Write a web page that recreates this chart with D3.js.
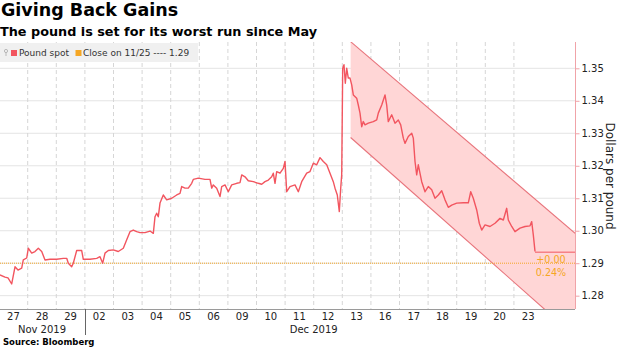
<!DOCTYPE html>
<html><head><meta charset="utf-8">
<script src="https://cdn.jsdelivr.net/npm/d3@7"></script>
<style>body{margin:0;background:#fff;} svg{display:block;font-family:"DejaVu Sans",sans-serif;}</style>
</head><body><svg id="c" width="620" height="348"></svg>
<script>
const title = "Giving Back Gains";
const subtitle = "The pound is set for its worst run since May";
const sourceText = "Source: Bloomberg";
const yAxisTitle = "Dollars per pound";
const legendLabels = ["Pound spot", "Close on 11/25 ---- 1.29"];
const dayLabels = ["27","28","29","02","03","04","05","06","09","10","11","12","13","16","17","18","19","20","23"];
const monthLabels = ["Nov 2019", "Dec 2019"];
const monthStart = [0, 3];
const monthEnd = [3, 19];
const yTicks = [1.28, 1.29, 1.30, 1.31, 1.32, 1.33, 1.34, 1.35];
// Pound spot: x = trading-day index (fractional), y = dollars per pound
const spotIdx = [0.031,0.206,0.311,0.441,0.556,0.661,0.790,0.846,0.965,1.021,1.140,1.255,1.371,1.490,1.605,1.780,2.014,2.245,2.364,2.420,2.538,2.594,2.713,2.888,2.944,
3.178,3.413,3.528,3.622,3.703,3.818,3.993,4.168,4.343,4.462,4.577,4.692,4.811,4.927,5.101,
5.276,5.392,5.451,5.510,5.566,5.626,5.741,5.860,6.035,6.210,6.325,6.385,6.500,6.615,6.734,6.790,6.965,7.199,7.374,7.434,7.490,7.608,7.724,7.783,7.899,8.014,8.133,8.308,8.423,8.483,8.598,8.713,8.888,9.063,9.182,9.297,9.413,9.531,9.587,9.647,9.706,9.822,9.937,9.997,
10.056,10.171,10.346,10.462,10.580,10.755,10.871,10.986,11.105,11.220,11.336,11.455,11.570,11.685,11.745,11.825,11.895,11.944,11.979,12.014,12.059,12.105,12.154,12.210,12.269,12.329,12.385,12.503,12.559,12.619,12.678,12.734,12.794,12.909,13.084,13.203,13.259,13.378,13.493,13.552,13.608,13.727,13.843,13.958,14.042,14.133,14.192,14.308,14.427,14.483,14.542,14.601,14.657,
14.776,14.892,15.007,15.126,15.241,15.357,15.476,15.591,15.706,15.825,16.000,16.231,16.406,16.490,16.580,16.699,16.790,16.874,16.990,17.164,17.339,17.514,17.630,17.748,17.804,17.923,18.038,18.213,18.388,18.563,18.622,18.678,18.738];
const spotVal = [1.2864,1.2857,1.2855,1.2836,1.2889,1.2879,1.2885,1.2910,1.2916,1.2946,1.2931,1.2936,1.2946,1.2936,1.2910,1.2912,1.2912,1.2915,1.2915,1.2900,1.2889,1.2900,1.2939,1.2939,1.2912,
1.2912,1.2915,1.2920,1.2900,1.2931,1.2939,1.2941,1.2936,1.2946,1.2972,1.2997,1.3002,1.2997,1.2994,1.2994,
1.2999,1.2992,1.3043,1.3054,1.3043,1.3085,1.3110,1.3095,1.3100,1.3110,1.3115,1.3136,1.3131,1.3131,1.3146,1.3158,1.3162,1.3158,1.3158,1.3131,1.3141,1.3131,1.3105,1.3136,1.3141,1.3120,1.3141,1.3146,1.3148,1.3172,1.3166,1.3154,1.3151,1.3146,1.3143,1.3151,1.3156,1.3166,1.3177,1.3146,1.3182,1.3177,1.3192,1.3213,
1.3120,1.3136,1.3141,1.3120,1.3151,1.3177,1.3182,1.3208,1.3203,1.3225,1.3213,1.3203,1.3177,1.3151,1.3131,1.3110,1.3059,1.3131,1.3172,1.3500,1.3511,1.3454,1.3500,1.3470,1.3470,1.3449,1.3418,1.3408,1.3387,1.3362,1.3320,1.3336,1.3326,1.3331,1.3336,1.3341,1.3362,1.3387,1.3418,1.3387,1.3336,1.3357,1.3331,1.3341,1.3326,1.3285,1.3269,1.3290,1.3300,1.3285,1.3213,1.3172,1.3203,
1.3151,1.3120,1.3136,1.3126,1.3100,1.3110,1.3123,1.3095,1.3072,1.3079,1.3085,1.3086,1.3086,1.3120,1.3100,1.3064,1.3023,1.3002,1.3018,1.3013,1.3023,1.3038,1.3033,1.3069,1.3033,1.3013,1.2997,1.3008,1.3013,1.3015,1.3028,1.2987,1.2936];
const lastPrice = 1.2934;
const closeValue = 1.29;
const changeLabels = ["+0.00", "0.24%"];
const channelIdx = [12.29, 20.14];
const channelUpper = [1.3582, 1.2992];
const channelLower = [1.3287, 1.2675];
const xDomain = [0.0315, 20.136];
const yDomain = [1.2759, 1.3581];

const C = {line:"#f2555f", fill:"#ffd6d6", chan:"#e8737b", axisR:"#f0a3a8", orange:"#f5a623", grid:"#e4e4e4", text:"#222"};
const plot = {l:0, r:575, t:42, b:309};
const svg = d3.select("#c");
const x = d3.scaleLinear().domain(xDomain).range([plot.l, plot.r]);
const y = d3.scaleLinear().domain(yDomain).range([plot.b, plot.t]);

svg.append("defs").append("clipPath").attr("id","pc").append("rect")
  .attr("x",plot.l).attr("y",plot.t).attr("width",plot.r-plot.l).attr("height",plot.b-plot.t);

// Titles
svg.append("text").attr("x",1).attr("y",16).attr("font-size",17.5).attr("font-weight","bold").attr("fill","#000").text(title);
svg.append("text").attr("x",0).attr("y",35.5).attr("font-size",12.8).attr("font-weight","bold").attr("fill","#000").text(subtitle);

// horizontal gridlines
svg.append("g").selectAll("line").data(yTicks).join("line")
  .attr("x1",plot.l).attr("x2",plot.r).attr("y1",d=>y(d)).attr("y2",d=>y(d))
  .attr("stroke",C.grid).attr("stroke-width",1);
// vertical dashed gridlines at day boundaries
const bounds = d3.range(1, dayLabels.length);
svg.append("g").selectAll("line").data(bounds).join("line")
  .attr("x1",d=>x(d)).attr("x2",d=>x(d)).attr("y1",plot.t).attr("y2",plot.b)
  .attr("stroke","#d6d6d6").attr("stroke-dasharray","4,3").attr("stroke-width",1);

const gp = svg.append("g").attr("clip-path","url(#pc)");
// channel
const chanPoly = [[channelIdx[0],channelUpper[0]],[channelIdx[1],channelUpper[1]],[channelIdx[1],channelLower[1]],[channelIdx[0],channelLower[0]]];
gp.append("path").attr("d", d3.line().x(d=>x(d[0])).y(d=>y(d[1]))(chanPoly)+"Z").attr("fill",C.fill).attr("stroke","none");
[channelUpper, channelLower].forEach(v=>{
  gp.append("line").attr("x1",x(channelIdx[0])).attr("x2",x(channelIdx[1])).attr("y1",y(v[0])).attr("y2",y(v[1]))
    .attr("stroke",C.chan).attr("stroke-width",1.1);
});
// close line
gp.append("line").attr("x1",plot.l).attr("x2",plot.r).attr("y1",y(closeValue)).attr("y2",y(closeValue))
  .attr("stroke",C.orange).attr("stroke-width",1).attr("stroke-dasharray","1,1");
// spot line
const pts = spotIdx.map((d,i)=>[d, spotVal[i]]);
gp.append("path").attr("d", d3.line().x(d=>x(d[0])).y(d=>y(d[1]))(pts))
  .attr("fill","none").attr("stroke",C.line).attr("stroke-width",1.4).attr("stroke-linejoin","round");
// last price extension
gp.append("line").attr("x1",x(spotIdx[spotIdx.length-1])).attr("x2",plot.r).attr("y1",y(lastPrice)).attr("y2",y(lastPrice))
  .attr("stroke",C.line).attr("stroke-width",1);
// change labels
svg.append("text").attr("x",plot.r-24).attr("y",y(closeValue)).attr("text-anchor","middle").attr("font-size",9.6).attr("fill",C.orange).text(changeLabels[0]);
svg.append("text").attr("x",plot.r-24).attr("y",y(closeValue)+12.5).attr("text-anchor","middle").attr("font-size",9.6).attr("fill",C.orange).text(changeLabels[1]);

// right axis
const ya = d3.axisRight(y).tickValues(yTicks).tickFormat(d3.format(".2f")).tickSize(4).tickPadding(2);
const gy = svg.append("g").attr("transform",`translate(${plot.r+0.5},0)`).call(ya);
gy.select(".domain").attr("stroke",C.axisR).attr("d",`M0,${plot.t}V${plot.b}`);
gy.selectAll(".tick line").attr("stroke",C.axisR);
gy.selectAll(".tick text").attr("font-size",10).attr("font-family","DejaVu Sans").attr("fill",C.text);
svg.append("text").attr("transform",`translate(606,176) rotate(90)`).attr("text-anchor","middle")
  .attr("font-size",12).attr("fill",C.text).text(yAxisTitle);

// x axis
svg.append("line").attr("x1",plot.l).attr("x2",plot.r).attr("y1",plot.b+0.5).attr("y2",plot.b+0.5).attr("stroke","#9a9a9a").attr("stroke-width",1.2);
svg.append("g").selectAll("text").data(dayLabels).join("text")
  .attr("x",(d,i)=>x(i+0.5)).attr("y",320).attr("text-anchor","middle").attr("font-size",10).attr("fill",C.text).text(d=>d);
svg.append("g").selectAll("text").data(monthLabels).join("text")
  .attr("x",(d,i)=>(x(monthStart[i])+x(monthEnd[i]))/2).attr("y",333).attr("text-anchor","middle").attr("font-size",10).attr("fill",C.text).text(d=>d);
svg.append("line").attr("x1",Math.round(x(monthStart[1]))+0.5).attr("x2",Math.round(x(monthStart[1]))+0.5).attr("y1",plot.b).attr("y2",335).attr("stroke","#666").attr("stroke-width",1);
svg.append("text").attr("x",3).attr("y",345).attr("font-size",8.5).attr("font-weight","bold").attr("fill","#000").text(sourceText);

// legend
const lg = svg.append("g");
lg.append("rect").attr("x",0).attr("y",43).attr("width",198).attr("height",19).attr("fill","#f0f0f0");
lg.append("circle").attr("cx",6).attr("cy",51).attr("r",1.6).attr("fill","none").attr("stroke","#aaa").attr("stroke-width",0.8);
lg.append("line").attr("x1",6).attr("x2",6).attr("y1",52.5).attr("y2",56).attr("stroke","#aaa").attr("stroke-width",0.8);
lg.append("rect").attr("x",11).attr("y",50).attr("width",6).attr("height",6).attr("fill",C.line);
lg.append("text").attr("x",19).attr("y",56).attr("font-size",9).attr("fill","#333").text(legendLabels[0]);
lg.append("rect").attr("x",75.5).attr("y",50).attr("width",6).attr("height",6).attr("fill",C.orange);
lg.append("text").attr("x",83).attr("y",56).attr("font-size",9).attr("fill","#333").text(legendLabels[1]);
</script></body></html>
